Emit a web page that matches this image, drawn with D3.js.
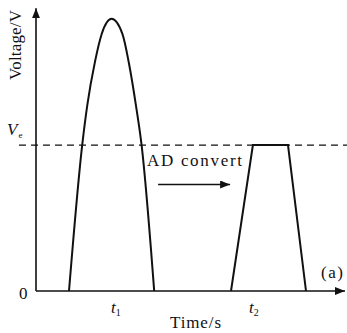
<!DOCTYPE html>
<html>
  <head>
    <meta charset="utf-8">
    <script src="https://cdn.jsdelivr.net/npm/d3@7"></script>
    <style>
      body { margin: 0; background: #fff; }
      svg text { font-family: "Liberation Serif", "Times New Roman", "DejaVu Serif", serif; fill: #111; }
    </style>
  </head>
  <body>
    <div class="plot_canvas"></div>
    <script>
      // pulse (time, voltage)
      var pulseT = [1.10, 1.54, 1.71, 1.97, 2.19, 2.52, 2.88, 3.09, 3.33, 3.52, 3.94];
      var pulseV = [0, 5.21, 6.64, 8.21, 9.18, 9.72, 9.18, 8.18, 6.64, 5.21, 0];
      // converted (clipped) pulse
      var convT = [6.50, 7.23, 8.40, 9.00];
      var convV = [0, 5.21, 5.21, 0];
      var Ve = 5.21;
      var tickLabels = ["t", "t"];
      var tickSubs = ["1", "2"];
      var tickPos = [2.70, 7.30];

      var width = 347, height = 333;
      var margin = {top: 11, right: 11, bottom: 42, left: 36};
      var serif = "'Liberation Serif', 'Times New Roman', serif";

      var xScale = d3.scaleLinear().domain([0, 10]).range([margin.left, width - margin.right]);
      var yScale = d3.scaleLinear().domain([0, 10]).range([height - margin.bottom, margin.top]);

      var svg = d3.select(".plot_canvas").append("svg")
        .attr("width", width).attr("height", height)
        .attr("font-family", serif);

      var defs = svg.append("defs");
      defs.append("marker")
        .attr("id", "arr")
        .attr("viewBox", "0 0 10 8")
        .attr("refX", 10).attr("refY", 4)
        .attr("markerWidth", 10).attr("markerHeight", 8)
        .attr("markerUnits", "userSpaceOnUse")
        .attr("orient", "auto")
        .append("path").attr("d", "M0,0 L10,4 L0,8 Z").attr("fill", "#111");

      // axes
      svg.append("line")
        .attr("x1", xScale(0)).attr("y1", yScale(0))
        .attr("x2", xScale(10.3)).attr("y2", yScale(0))
        .attr("stroke", "#111").attr("stroke-width", 1.6)
        .attr("marker-end", "url(#arr)");
      svg.append("line")
        .attr("x1", xScale(0)).attr("y1", yScale(0))
        .attr("x2", xScale(0)).attr("y2", yScale(10.1))
        .attr("stroke", "#111").attr("stroke-width", 1.6)
        .attr("marker-end", "url(#arr)");

      // Ve dashed level
      svg.append("line")
        .attr("x1", 19).attr("x2", width)
        .attr("y1", yScale(Ve)).attr("y2", yScale(Ve))
        .attr("stroke", "#111").attr("stroke-width", 1.4)
        .attr("stroke-dasharray", "7,5");

      var line = d3.line()
        .x(function(d) { return xScale(d[0]); })
        .y(function(d) { return yScale(d[1]); });

      svg.append("path")
        .attr("d", line.curve(d3.curveMonotoneX)(d3.zip(pulseT, pulseV)))
        .attr("fill", "none").attr("stroke", "#111").attr("stroke-width", 2);

      svg.append("path")
        .attr("d", line.curve(d3.curveLinear)(d3.zip(convT, convV)))
        .attr("fill", "none").attr("stroke", "#111").attr("stroke-width", 2);

      // arrow "AD convert"
      svg.append("line")
        .attr("x1", xScale(4.07)).attr("x2", xScale(6.47))
        .attr("y1", 184.5).attr("y2", 184.5)
        .attr("stroke", "#111").attr("stroke-width", 1.3)
        .attr("marker-end", "url(#arr)");
      svg.append("text")
        .attr("x", 147).attr("y", 166)
        .attr("font-size", 17)
        .attr("textLength", 95).attr("lengthAdjust", "spacing")
        .text("AD  convert");

      // labels
      svg.append("text")
        .attr("x", 19).attr("y", 299)
        .attr("font-size", 17)
        .text("0");

      var tk = svg.selectAll(".tk").data(tickPos).enter().append("text")
        .attr("class", "tk")
        .attr("x", function(d) { return xScale(d) - 6; })
        .attr("y", 313)
        .attr("font-size", 17)
        .attr("font-style", "italic");
      tk.append("tspan").text(function(d, i) { return tickLabels[i]; });
      tk.append("tspan").attr("font-size", 10).attr("font-style", "normal").attr("dy", 3)
        .text(function(d, i) { return tickSubs[i]; });

      svg.append("text")
        .attr("x", 170).attr("y", 328)
        .attr("font-size", 17)
        .attr("textLength", 51).attr("lengthAdjust", "spacing")
        .text("Time/s");

      svg.append("text")
        .attr("transform", "translate(21,80) rotate(-90)")
        .attr("font-size", 17)
        .attr("textLength", 70).attr("lengthAdjust", "spacing")
        .text("Voltage/V");

      var ve = svg.append("text").attr("x", 7).attr("y", 135).attr("font-size", 17);
      ve.append("tspan").attr("font-style", "italic").text("V");
      ve.append("tspan").attr("font-size", 9).attr("dy", 3).attr("dx", 1).text("e");

      svg.append("text")
        .attr("x", 321).attr("y", 278)
        .attr("font-size", 17)
        .attr("textLength", 22).attr("lengthAdjust", "spacing")
        .text("(a)");
    </script>
  </body>
</html>
